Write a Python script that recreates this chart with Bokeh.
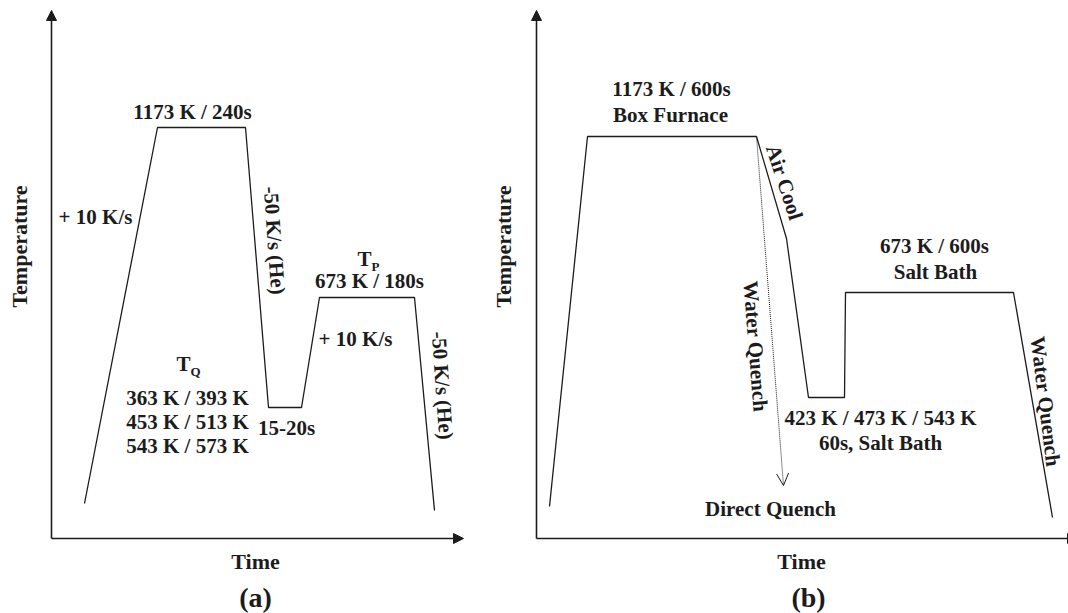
from bokeh.plotting import figure
from bokeh.models import Range1d, Arrow, NormalHead, OpenHead, ColumnDataSource
from bokeh.core.properties import value
from bokeh.embed import file_html
from bokeh.resources import INLINE

# ---------------- schematic data (arbitrary time / temperature units) ----------------
# Panel (a): Q&P via dilatometer
a_time = [84, 157, 245, 268, 301, 319, 414, 434]
a_temp = [110, 486, 486, 206, 206, 316, 316, 103]
# Panel (b): box furnace + salt baths
b_time = [549, 587, 756, 786, 808, 844, 845, 1013, 1052]
b_temp = [107, 477, 477, 375, 216, 216, 321, 321, 96]
# Direct quench branch (dotted)
dq_time = [756, 783]
dq_temp = [477, 128]

tq_list = ["363 K / 393 K", "453 K / 513 K", "543 K / 573 K"]
a_labels = ["1173 K / 240s", "+ 10 K/s", "673 K / 180s", "+ 10 K/s", "15-20s"]
b_labels = ["1173 K / 600s", "Box Furnace", "673 K / 600s", "Salt Bath",
            "423 K / 473 K / 543 K", "60s, Salt Bath", "Direct Quench"]

W, H = 1068, 613
INK = "#1c1c1c"
FONT = value("Liberation Serif")

p = figure(width=W, height=H, x_range=Range1d(0, W), y_range=Range1d(0, H),
           output_backend="svg", toolbar_location=None, min_border=0)
p.axis.visible = False
p.grid.visible = False
p.outline_line_color = None
p.background_fill_color = "white"
p.border_fill_color = "white"

def Y(ypix):
    return H - ypix

# ---- axes with arrows ----
for x0, xend in [(51, 463), (536, 1077)]:
    p.add_layout(Arrow(end=NormalHead(size=10, fill_color=INK, line_color=INK, line_width=1),
                       x_start=x0, y_start=Y(538), x_end=x0, y_end=Y(10),
                       line_color=INK, line_width=1.6))
    p.add_layout(Arrow(end=NormalHead(size=10, fill_color=INK, line_color=INK, line_width=1),
                       x_start=x0, y_start=Y(538), x_end=xend, y_end=Y(538),
                       line_color=INK, line_width=1.6))

# ---- profiles ----
p.line(a_time, a_temp, line_color=INK, line_width=1.3)
p.line(b_time, b_temp, line_color=INK, line_width=1.3)
p.add_layout(Arrow(end=OpenHead(size=12, line_color=INK, line_width=1),
                   x_start=dq_time[0], y_start=dq_temp[0], x_end=dq_time[1], y_end=dq_temp[1],
                   line_color=INK, line_width=1, line_dash="1 1"))

def txt(xs, ys, texts, size="21px", angle=0.0, align="center"):
    src = ColumnDataSource(dict(x=xs, y=[Y(v) for v in ys], t=texts))
    p.text(x="x", y="y", text="t", source=src, angle=angle, angle_units="deg",
           text_font=FONT, text_font_style="bold", text_font_size=size,
           text_color=INK, text_align=align, text_baseline="middle")

# ---- panel (a) texts ----
txt([192, 95, 369, 355, 286], [111, 216, 280, 338, 427], a_labels)
txt([187, 187, 187], [397, 421, 445], tq_list)
txt([364], [258], ["T"])
txt([375], [266], ["P"], size="13px")
txt([183], [363], ["T"])
txt([195], [371], ["Q"], size="13px")
txt([274, 442], [240, 385], ["-50 K/s (He)", "-50 K/s (He)"], angle=-86)
txt([19], [246], ["Temperature"], size="22px", angle=90)
txt([255], [561], ["Time"], size="22px")
txt([255], [597], ["(a)"], size="28px")

# ---- panel (b) texts ----
txt([671, 670, 934, 935, 880, 880, 770], [88, 114, 245, 271, 417, 442, 508], b_labels)
txt([784], [182], ["Air Cool"], angle=-72)
txt([755], [346], ["Water Quench"], angle=-85.6)
txt([1045], [401], ["Water Quench"], angle=-83)
txt([503], [246], ["Temperature"], size="22px", angle=90)
txt([801], [561], ["Time"], size="22px")
txt([808], [597], ["(b)"], size="28px")

open("out.html", "w").write(file_html(p, INLINE))
